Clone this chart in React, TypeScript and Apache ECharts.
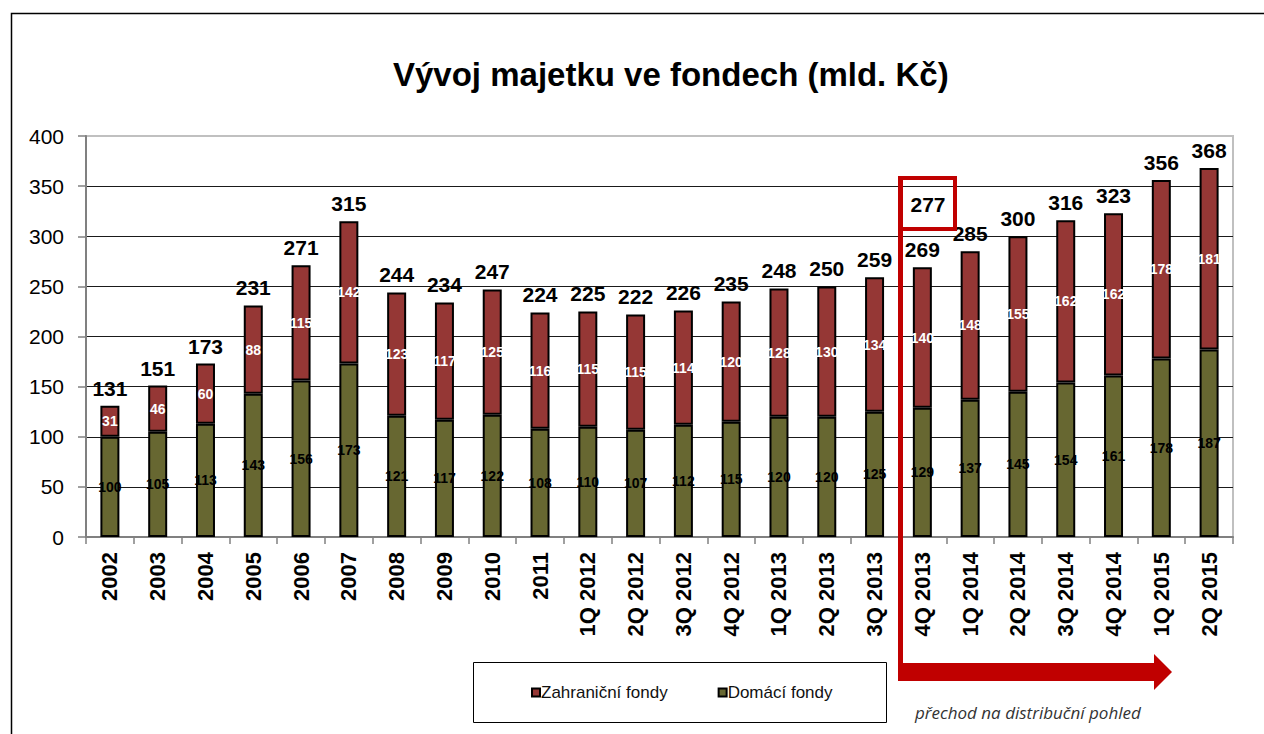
import React, { useEffect, useRef } from 'react';
import * as echarts from 'echarts';

const categories = [
  '2002', '2003', '2004', '2005', '2006', '2007', '2008', '2009', '2010', '2011',
  '1Q 2012', '2Q 2012', '3Q 2012', '4Q 2012', '1Q 2013', '2Q 2013', '3Q 2013',
  '4Q 2013', '1Q 2014', '2Q 2014', '3Q 2014', '4Q 2014', '1Q 2015', '2Q 2015',
];
const domaci = [100, 105, 113, 143, 156, 173, 121, 117, 122, 108, 110, 107, 112, 115, 120, 120, 125, 129, 137, 145, 154, 161, 178, 187];
const zahranicni = [31, 46, 60, 88, 115, 142, 123, 117, 125, 116, 115, 115, 114, 120, 128, 130, 134, 140, 148, 155, 162, 162, 178, 181];
const celkem = [131, 151, 173, 231, 271, 315, 244, 234, 247, 224, 225, 222, 226, 235, 248, 250, 259, 269, 285, 300, 316, 323, 356, 368];
const yMin = 0;
const yMax = 400;
const yStep = 50;
const distribucni4Q2013 = 277;

const FONT = '"Liberation Sans", Arial, sans-serif';
const RED = '#C00000';

export default function App() {
  const ref = useRef<HTMLDivElement>(null);
  useEffect(() => {
    const chart = echarts.init(ref.current!, null, { renderer: 'svg' });
    chart.setOption({
      animation: false,
      backgroundColor: '#ffffff',
      textStyle: { fontFamily: FONT },
      title: {
        text: 'Vývoj majetku ve fondech (mld. Kč)',
        left: 388,
        top: 53,
        textStyle: { fontSize: 33, fontWeight: 'bold', color: '#000', fontFamily: FONT },
      },
      grid: {
        left: 86,
        right: 31,
        top: 136,
        bottom: 197,
        show: true,
        borderColor: '#c0c0c0',
        borderWidth: 2,
      },
      legend: {
        data: ['Zahraniční fondy', 'Domácí fondy'],
        left: 526,
        top: 679,
        itemWidth: 8,
        itemHeight: 8,
        itemGap: 50,
        icon: 'rect',
        textStyle: { fontSize: 17, color: '#111', fontFamily: FONT, padding: [0, 0, 0, -4] },
      },
      xAxis: {
        type: 'category',
        data: categories,
        axisLine: { lineStyle: { color: '#808080', width: 2 } },
        axisTick: { show: true, length: 7, lineStyle: { color: '#808080', width: 1.5 } },
        axisLabel: {
          interval: 0,
          rotate: 90,
          margin: 15,
          fontSize: 22,
          fontWeight: 'bold',
          color: '#000',
          fontFamily: FONT,
        },
      },
      yAxis: {
        type: 'value',
        min: yMin,
        max: yMax,
        interval: yStep,
        axisLine: { show: true, lineStyle: { color: '#808080', width: 2 } },
        axisTick: { show: true, length: 8, lineStyle: { color: '#808080', width: 1.5 } },
        axisLabel: { fontSize: 21, color: '#000', margin: 22, fontFamily: FONT },
        splitLine: { show: true, showMaxLine: false, lineStyle: { color: '#1a1a1a', width: 1 } },
      },
      series: [
        {
          name: 'Domácí fondy',
          type: 'bar',
          stack: 'total',
          data: domaci,
          barWidth: 19,
          itemStyle: { color: '#676731', borderColor: '#000', borderWidth: 2 },
          label: {
            show: true,
            position: 'inside',
            fontSize: 14,
            fontWeight: 'bold',
            color: '#000',
            fontFamily: FONT,
          },
        },
        {
          name: 'Zahraniční fondy',
          type: 'bar',
          stack: 'total',
          data: zahranicni,
          barWidth: 19,
          itemStyle: { color: '#953735', borderColor: '#000', borderWidth: 2 },
          label: {
            show: true,
            position: 'inside',
            fontSize: 14,
            fontWeight: 'bold',
            color: '#fff',
            fontFamily: FONT,
          },
        },
        {
          name: 'Celkem',
          type: 'scatter',
          data: celkem,
          symbolSize: 0,
          z: 10,
          itemStyle: { opacity: 1 },
          label: {
            show: true,
            position: 'top',
            distance: 7,
            fontSize: 21,
            fontWeight: 'bold',
            color: '#000',
            opacity: 1,
            fontFamily: FONT,
          },
        },
      ],
      graphic: [
        {
          type: 'rect',
          silent: true,
          shape: { x: 11.5, y: 13.5, width: 1400, height: 900 },
          style: { fill: 'none', stroke: '#000', lineWidth: 1.5 },
        },
        {
          type: 'rect',
          shape: { x: 473.5, y: 662.5, width: 413, height: 60 },
          style: { fill: 'none', stroke: '#000', lineWidth: 1 },
          z: -1,
        },
        {
          type: 'rect',
          shape: { x: 901, y: 178, width: 54, height: 51 },
          style: { fill: 'none', stroke: RED, lineWidth: 4 },
          z: 20,
        },
        {
          type: 'text',
          x: 928,
          y: 204,
          style: {
            text: String(distribucni4Q2013),
            fontSize: 21,
            fontWeight: 'bold',
            fill: '#000',
            fontFamily: FONT,
            align: 'center',
            verticalAlign: 'middle',
          },
          z: 20,
        },
        {
          type: 'line',
          shape: { x1: 900.5, y1: 176, x2: 900.5, y2: 672 },
          style: { stroke: RED, lineWidth: 5 },
          z: 20,
        },
        {
          type: 'rect',
          shape: { x: 898, y: 663, width: 258, height: 18 },
          style: { fill: RED },
          z: 20,
        },
        {
          type: 'polygon',
          shape: { points: [[1154, 654], [1172, 672], [1154, 690]] },
          style: { fill: RED },
          z: 20,
        },
        {
          type: 'text',
          x: 915,
          y: 712,
          style: {
            text: 'přechod na distribuční pohled',
            fontSize: 17,
            fontStyle: 'italic',
            fill: '#333',
            fontFamily: '"Open Sans", "Liberation Sans", sans-serif',
            verticalAlign: 'middle',
          },
        },
      ],
    });
    return () => chart.dispose();
  }, []);
  return (
    <div
      ref={ref}
      style={{ position: 'fixed', left: 0, top: 0, width: 1264, height: 734, background: '#fff' }}
    />
  );
}
